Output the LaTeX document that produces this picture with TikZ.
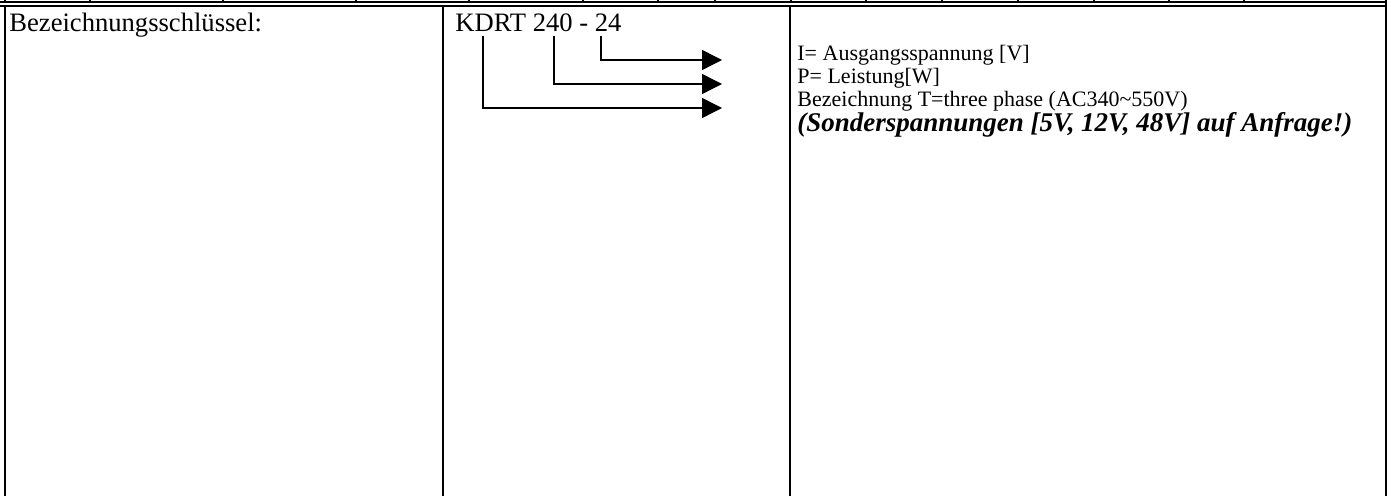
\documentclass[tikz,border=0pt]{standalone}
\usepackage{fontspec}
\setmainfont{Liberation Serif}
\usetikzlibrary{arrows.meta}
\begin{document}
\begin{tikzpicture}[x=0.5pt, y=-0.5pt,
    rule/.style={line width=1.3pt},
    thinrule/.style={line width=0.9pt},
    keyarrow/.style={line width=0.7pt, -{Triangle[length=10pt,width=10pt]}},
    every node/.style={inner sep=0pt, anchor=base west},
    bigtext/.style={font=\fontsize{13.3}{16}\selectfont},
    smalltext/.style={font=\fontsize{11}{13.2}\selectfont}]
  \useasboundingbox (0,0) rectangle (1391,496);
  % top rules with ticks
  \draw[thinrule] (0,2) -- (1386,2);
  \draw[thinrule] (0,6) -- (1386,6);
  \foreach \x in {5,90,223,356,469,583,658,715,791,866,942,1018,1094,1169,1244}
    \draw[thinrule] (\x,0) -- (\x,2);
  % column borders
  \draw[rule] (5,6) -- (5,496);
  \draw[rule] (443,6) -- (443,496);
  \draw[rule] (790,6) -- (790,496);
  \draw[rule] (1386,0) -- (1386,496);
  % texts
  \node[bigtext] (key) at (9,32) {Bezeichnungsschlüssel:};
  \node[bigtext] (code) at (455,32) {KDRT 240 - 24};
  \node[smalltext] (volt) at (797,61) {I= Ausgangsspannung [V]};
  \node[smalltext] (power) at (797,84) {P= Leistung[W]};
  \node[smalltext] (phase) at (797,107) {Bezeichnung T=three phase (AC340\textasciitilde550V)};
  \node[font=\fontsize{13.5}{16}\selectfont\bfseries\itshape] (note) at (797,132) {(Sonderspannungen [5V, 12V, 48V] auf Anfrage!)};
  % key arrows
  \coordinate (vstart) at (601,36);
  \coordinate (pstart) at (554,36);
  \coordinate (tstart) at (483,36);
  \coordinate (vend) at (722,60);
  \coordinate (pend) at (722,84);
  \coordinate (tend) at (722,108);
  \draw[keyarrow] (vstart) |- (vend);
  \draw[keyarrow] (pstart) |- (pend);
  \draw[keyarrow] (tstart) |- (tend);
\end{tikzpicture}
\end{document}
